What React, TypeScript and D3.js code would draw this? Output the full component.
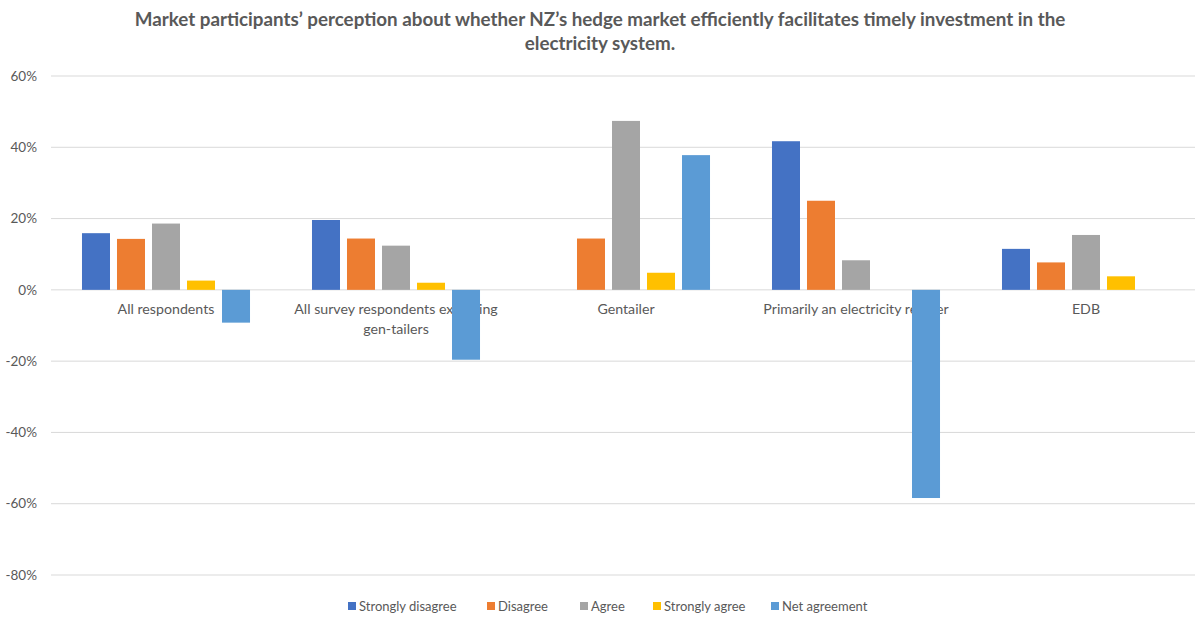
import React from "react";
import * as d3 from "d3";

const categories = [
  ["All respondents"],
  ["All survey respondents excluding", "gen-tailers"],
  ["Gentailer"],
  ["Primarily an electricity retailer"],
  ["EDB"],
];
const seriesNames = ["Strongly disagree", "Disagree", "Agree", "Strongly agree", "Net agreement"];
const seriesColors = ["#4472C4", "#ED7D31", "#A5A5A5", "#FFC000", "#5B9BD5"];
const stronglyDisagree = [15.9, 19.6, 0, 41.7, 11.5];
const disagree = [14.3, 14.4, 14.4, 25.0, 7.7];
const agree = [18.6, 12.4, 47.4, 8.3, 15.4];
const stronglyAgree = [2.6, 2.0, 4.8, 0, 3.8];
const netAgreement = [-9.2, -19.6, 37.8, -58.4, 0];
const yTicks = [60, 40, 20, 0, -20, -40, -60, -80];
const titleLines = [
  "Market participants\u2019 perception about whether NZ\u2019s hedge market efficiently facilitates timely investment in the",
  "electricity system.",
];

const W = 1195;
const H = 617;
const FONT = "Lato, 'Open Sans', sans-serif";
const TEXT = "#595959";

export default function App() {
  const series = [stronglyDisagree, disagree, agree, stronglyAgree, netAgreement];
  const left = 51;
  const right = 1201;
  const y = d3.scaleLinear().domain([-80, 60]).range([575, 76]);
  const x0 = d3
    .scaleBand<number>()
    .domain(d3.range(categories.length))
    .range([left, right])
    .paddingInner(0.239)
    .paddingOuter(0.1195);
  const x1 = d3
    .scaleBand<number>()
    .domain(d3.range(seriesNames.length))
    .range([0, x0.bandwidth()])
    .paddingInner(0.2)
    .paddingOuter(0.1);

  const legendX = [348, 487, 580, 653, 771];

  return (
    <svg width={W} height={H} style={{ position: "absolute", left: 0, top: 0, background: "#fff" }}>
      <rect width={W} height={H} fill="#fff" />
      {titleLines.map((t, i) => (
        <text
          key={i}
          x={600}
          y={26 + i * 24}
          textAnchor="middle"
          fontFamily={FONT}
          fontWeight="bold"
          fontSize={18.8}
          fill={TEXT}
        >
          {t}
        </text>
      ))}
      {yTicks.map((t) => (
        <g key={t}>
          <line x1={left} x2={right} y1={y(t)} y2={y(t)} stroke="#d9d9d9" strokeWidth={1} />
          <text
            x={37}
            y={y(t)}
            dy="0.35em"
            textAnchor="end"
            fontFamily={FONT}
            fontSize={13.5}
            fill={TEXT}
          >
            {t}%
          </text>
        </g>
      ))}
      {categories.map((lines, ci) => (
        <g key={ci}>
          {lines.map((l, li) => (
            <text
              key={li}
              x={(x0(ci) as number) + x0.bandwidth() / 2}
              y={y(0) + 24 + li * 20}
              textAnchor="middle"
              fontFamily={FONT}
              fontSize={14.2}
              fill={TEXT}
            >
              {l}
            </text>
          ))}
        </g>
      ))}
      {categories.map((_, ci) =>
        series.map((s, si) => {
          const v = s[ci];
          if (v === 0) return null;
          const bx = (x0(ci) as number) + (x1(si) as number);
          const y0 = y(0);
          const yv = y(v);
          return (
            <rect
              key={ci + "-" + si}
              x={bx}
              y={Math.min(y0, yv)}
              width={x1.bandwidth()}
              height={Math.abs(yv - y0)}
              fill={seriesColors[si]}
            />
          );
        })
      )}
      {seriesNames.map((n, i) => (
        <g key={n}>
          <rect x={legendX[i]} y={602} width={8} height={8} fill={seriesColors[i]} />
          <text
            x={legendX[i] + 11}
            y={606}
            dy="0.35em"
            fontFamily={FONT}
            fontSize={13}
            fill={TEXT}
          >
            {n}
          </text>
        </g>
      ))}
    </svg>
  );
}
